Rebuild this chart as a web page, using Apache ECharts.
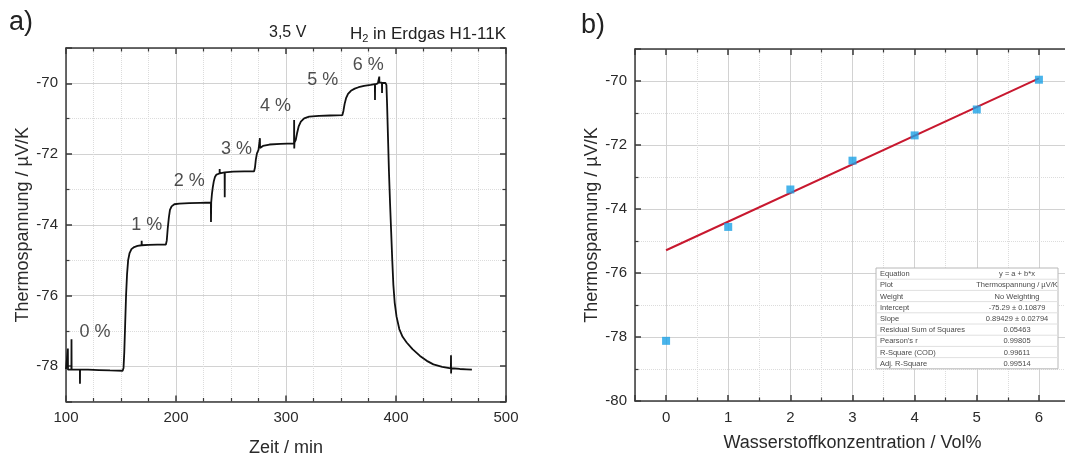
<!DOCTYPE html>
<html>
<head>
<meta charset="utf-8">
<script src="https://cdn.jsdelivr.net/npm/echarts@6/dist/echarts.min.js"></script>
<style>
html, body { margin: 0; padding: 0; background: #fff; }
#chart { width: 1065px; height: 454px; }
</style>
</head>
<body>
<div id="chart"></div>
<script>
// a) Zeitverlauf der Thermospannung
var timeMin = [100.0, 101.6, 101.7, 101.8, 104.9, 105.0, 105.1, 112.6, 112.7, 112.8, 120, 130, 140, 151.5,
    152.3, 153.0, 153.8, 154.6, 155.5, 156.5, 157.8, 159.5, 162, 165, 168.7, 168.8, 168.9, 175, 183, 190.8,
    191.6, 192.5, 193.5, 194.5, 196, 198.5, 203, 212, 222, 231.7, 231.8, 232.0,
    232.6, 233.4, 234.3, 235.4, 236.8, 239.6, 239.7, 239.8, 244.2, 244.3, 244.4, 252, 262, 271,
    271.8, 272.6, 273.6, 275, 276.2, 276.3, 276.4, 279, 285, 295, 307.3, 307.4, 307.5, 307.7,
    308.9, 310, 311.5, 313.5, 316.5, 321, 330, 340, 351.2,
    352.2, 353.3, 354.6, 356.4, 359, 362.5, 366, 371, 377, 380.8, 380.9, 381.0, 383.5, 384.7, 384.8, 384.9,
    386, 387.2, 387.3, 387.4, 389, 390.5,
    391.3, 391.9, 392.7, 393.6, 394.6, 395.6, 396.6, 397.6, 398.8, 400.5, 403, 406, 409.7, 415, 421.8,
    428, 434, 442, 449.9, 450.0, 450.1, 450.2, 458, 464, 469];
var thermoV = [-78.08, -78.08, -77.50, -78.10, -78.10, -77.24, -78.10, -78.10, -78.50, -78.10, -78.10, -78.11, -78.12, -78.13,
    -78.05, -77.6, -76.8, -76.0, -75.4, -75.0, -74.8, -74.69, -74.63, -74.60, -74.58, -74.45, -74.58, -74.57, -74.56, -74.56,
    -74.45, -74.1, -73.8, -73.58, -73.48, -73.42, -73.40, -73.39, -73.38, -73.37, -73.92, -73.37,
    -73.15, -72.95, -72.78, -72.65, -72.58, -72.55, -72.42, -72.55, -72.52, -73.22, -72.52, -72.50, -72.49, -72.49,
    -72.38, -72.15, -71.98, -71.88, -71.83, -71.55, -71.83, -71.77, -71.73, -71.71, -71.70, -71.04, -71.84, -71.68,
    -71.60, -71.42, -71.22, -71.08, -70.99, -70.94, -70.92, -70.91, -70.90,
    -70.78, -70.58, -70.42, -70.30, -70.21, -70.15, -70.11, -70.07, -70.04, -70.02, -70.47, -70.03, -70.00, -69.95, -69.81, -69.98,
    -69.97, -69.98, -70.27, -69.99, -69.97, -69.99,
    -70.05, -70.6, -71.5, -72.5, -73.4, -74.2, -75.0, -75.7, -76.2, -76.6, -76.95, -77.17, -77.33, -77.52, -77.71,
    -77.85, -77.95, -78.02, -78.06, -77.69, -78.21, -78.06, -78.08, -78.09, -78.10];

// Beschriftung der Stufen
var stepText = ['0 %', '1 %', '2 %', '3 %', '4 %', '5 %', '6 %'];
var stepX = [126.4, 173.4, 212, 255.1, 290.5, 333.5, 374.8];
var stepY = [-77.03, -74.01, -72.75, -71.85, -70.63, -69.91, -69.48];

// b) Thermospannung ueber Konzentration
var concX = [0, 1, 2, 3, 4, 5, 6];
var concY = [-78.12, -74.56, -73.39, -72.49, -71.70, -70.89, -69.96];
var fitX = [0, 6];
var fitY = [-75.29, -69.92];

var fitRows = [
    ['Equation', 'y = a + b*x'],
    ['Plot', 'Thermospannung / \u00b5V/K'],
    ['Weight', 'No Weighting'],
    ['Intercept', '-75.29 \u00b1 0.10879'],
    ['Slope', '0.89429 \u00b1 0.02794'],
    ['Residual Sum of Squares', '0.05463'],
    ["Pearson's r", '0.99805'],
    ['R-Square (COD)', '0.99611'],
    ['Adj. R-Square', '0.99514']
];

var FONT = '"Liberation Sans", Arial, sans-serif';
var AXC = '#3a3a3a';

function axisBase(extra) {
    var a = {
        type: 'value',
        axisLine: { show: true, onZero: false, lineStyle: { color: AXC, width: 1.5 } },
        axisTick: { show: true, inside: true, length: 6, lineStyle: { color: AXC, width: 1.5 } },
        minorTick: { show: true, length: 3.5, lineStyle: { color: AXC, width: 1.2 } },
        axisLabel: { show: true, fontSize: 15, color: '#2a2a2a', fontFamily: FONT, margin: 8 },
        splitLine: { show: true, lineStyle: { color: '#d2d2d2', width: 1 } },
        minorSplitLine: { show: true, lineStyle: { color: '#dcdcdc', width: 1, type: 'dotted' } },
        nameLocation: 'middle',
        nameTextStyle: { fontSize: 18, color: '#2a2a2a', fontFamily: FONT }
    };
    for (var k in extra) a[k] = extra[k];
    return a;
}
function mirror(a, pos) {
    var m = JSON.parse(JSON.stringify(a));
    m.position = pos;
    m.name = '';
    m.axisLabel.show = false;
    m.splitLine.show = false;
    m.minorSplitLine.show = false;
    return m;
}

var xA = axisBase({ gridIndex: 0, min: 100, max: 500, interval: 100, name: 'Zeit / min', nameGap: 38 });
xA.minorTick.splitNumber = 4;
xA.axisLabel.margin = 9;
var yA = axisBase({ gridIndex: 0, min: -79, max: -69, minInterval: 2, maxInterval: 2,
    name: 'Thermospannung / \u00b5V/K', nameGap: 34, nameRotate: 90 });
yA.minorTick.splitNumber = 2;
yA.axisLabel.showMinLabel = false;
yA.axisLabel.showMaxLabel = false;

var xB = axisBase({ gridIndex: 1, min: -0.5, max: 6.5, minInterval: 1, maxInterval: 1,
    name: 'Wasserstoffkonzentration / Vol%', nameGap: 33 });
xB.minorTick.splitNumber = 2;
xB.axisLabel.showMinLabel = false;
xB.axisLabel.showMaxLabel = false;
xB.axisLabel.margin = 9;
var yB = axisBase({ gridIndex: 1, min: -80, max: -69, minInterval: 2, maxInterval: 2,
    name: 'Thermospannung / \u00b5V/K', nameGap: 31, nameRotate: 90 });
yB.minorTick.splitNumber = 2;
yB.axisLabel.showMaxLabel = false;
// rechte Achse von b) liegt ausserhalb des Bildes
var yBr = mirror(yB, 'right');
yBr.show = false;

var curve = timeMin.map(function (t, i) { return [t, thermoV[i]]; });
var steps = stepX.map(function (x, i) { return [x, stepY[i], stepText[i]]; });
var points = concX.map(function (x, i) { return [x, concY[i]]; });
var fit = fitX.map(function (x, i) { return [x, fitY[i]]; });

// Tabelle mit den Fitparametern
var tblL = 876, tblT = 268, tblW = 182, rowH = 11.2;
var tbl = [{
    type: 'rect', z: 100,
    shape: { x: tblL, y: tblT, width: tblW, height: rowH * fitRows.length },
    style: { fill: '#ffffff', stroke: '#b8b8b8', lineWidth: 1 }
}];
fitRows.forEach(function (r, i) {
    if (i > 0) {
        tbl.push({ type: 'line', z: 101,
            shape: { x1: tblL, y1: tblT + rowH * i, x2: tblL + tblW, y2: tblT + rowH * i },
            style: { stroke: '#e0e0e0', lineWidth: 1 } });
    }
    tbl.push({ type: 'text', z: 102, x: tblL + 4, y: tblT + rowH * i + rowH / 2 + 0.5,
        style: { text: r[0], fontSize: 7.5, fontFamily: FONT, fill: '#4a4a4a', align: 'left', verticalAlign: 'middle' } });
    tbl.push({ type: 'text', z: 102, x: tblL + 141, y: tblT + rowH * i + rowH / 2 + 0.5,
        style: { text: r[1], fontSize: 7.5, fontFamily: FONT, fill: '#4a4a4a', align: 'center', verticalAlign: 'middle' } });
});

var myChart = echarts.init(document.getElementById('chart'));
var option = {
    animation: false,
    backgroundColor: '#ffffff',
    textStyle: { fontFamily: FONT },
    title: [
        { text: 'a)', left: 9, top: 9, padding: 0, textStyle: { fontSize: 27, fontWeight: 'normal', color: '#222', fontFamily: FONT } },
        { text: 'b)', left: 581, top: 12, padding: 0, textStyle: { fontSize: 27, fontWeight: 'normal', color: '#222', fontFamily: FONT } },
        { text: '3,5 V', left: 269, top: 25, padding: 0, textStyle: { fontSize: 16, fontWeight: 'normal', color: '#222', fontFamily: FONT } },
        { text: '{n|H}{s|2}{n| in Erdgas H1-11K}', right: 559, top: 25, padding: 0,
          textStyle: { fontSize: 17, fontWeight: 'normal', color: '#222', fontFamily: FONT,
            rich: { n: { fontSize: 17, color: '#222', fontFamily: FONT },
                    s: { fontSize: 11, color: '#222', fontFamily: FONT, padding: [8, 0, 0, 0] } } } }
    ],
    grid: [
        { left: 66, top: 48, width: 440, height: 353.5, outerBoundsMode: 'none', containLabel: false },
        { left: 635, top: 49, width: 435, height: 352, outerBoundsMode: 'none', containLabel: false }
    ],
    xAxis: [xA, mirror(xA, 'top'), xB, mirror(xB, 'top')],
    yAxis: [yA, mirror(yA, 'right'), yB, yBr],
    series: [
        {
            type: 'line', xAxisIndex: 0, yAxisIndex: 0, data: curve,
            showSymbol: false, symbol: 'none',
            lineStyle: { color: '#111', width: 1.8 }, z: 3
        },
        {
            type: 'scatter', xAxisIndex: 0, yAxisIndex: 0, data: steps,
            symbolSize: 1, itemStyle: { color: 'rgba(0,0,0,0)' },
            label: { show: true, position: 'inside', fontSize: 18, color: '#222', fontFamily: FONT,
                formatter: function (p) { return p.value[2]; } },
            z: 4
        },
        {
            type: 'line', xAxisIndex: 2, yAxisIndex: 2, data: fit,
            showSymbol: false, symbol: 'none',
            lineStyle: { color: '#c8182f', width: 2 }, z: 3
        },
        {
            type: 'scatter', xAxisIndex: 2, yAxisIndex: 2, data: points,
            symbol: 'rect', symbolSize: 8,
            itemStyle: { color: '#1ba1e6' }, z: 4
        }
    ],
    graphic: tbl
};
myChart.setOption(option);
</script>
</body>
</html>
